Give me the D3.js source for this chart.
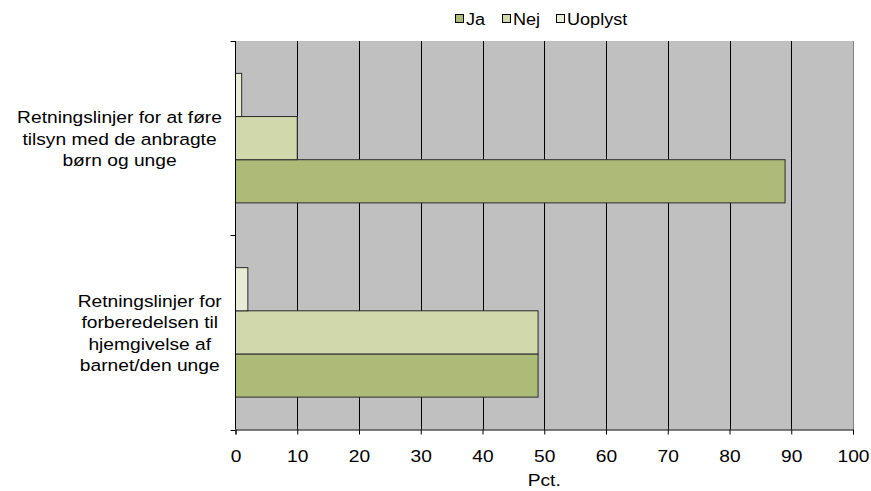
<!DOCTYPE html>
<html>
<head>
<meta charset="utf-8">
<script src="https://cdn.jsdelivr.net/npm/d3@7"></script>
<style>
  html, body { margin: 0; padding: 0; background: #fff; }
  svg text { font-family: "Liberation Sans", Arial, sans-serif; fill: #000; }
</style>
</head>
<body>
<svg id="chart" width="871" height="491"></svg>
<script>
// Categories (each an array of wrapped label lines)
const categories = [
  ["Retningslinjer for at føre", "tilsyn med de anbragte", "børn og unge"],
  ["Retningslinjer for", "forberedelsen til", "hjemgivelse af", "barnet/den unge"]
];
const seriesNames = ["Ja", "Nej", "Uoplyst"];
const jaValues = [89, 49];
const nejValues = [10, 49];
const uoplystValues = [1, 2];
const xTicks = [0, 10, 20, 30, 40, 50, 60, 70, 80, 90, 100];
const xTitle = "Pct.";
const colors = { "Ja": "#AEBA78", "Nej": "#D0D8AC", "Uoplyst": "#E8ECD4" };

const values = { "Ja": jaValues, "Nej": nejValues, "Uoplyst": uoplystValues };

const svg = d3.select("#chart");
const plotL = 235.5, plotR = 853, plotT = 41, plotB = 429.5;
const fontSize = 17, stretch = 1.13;   // text is drawn slightly widened

const x = d3.scaleLinear().domain([0, 100]).range([plotL, plotR]);
const catIdx = categories.map((_, i) => i);
const y = d3.scaleBand().domain(catIdx).range([plotT, plotB]).padding(0);
// within a category the series run bottom to top: Ja lowest, Uoplyst highest
const ySeries = d3.scaleBand().domain(["Uoplyst", "Nej", "Ja"])
  .range([0, y.bandwidth()]).paddingInner(0).paddingOuter(0.75);

// plot background
svg.append("rect")
  .attr("x", plotL).attr("y", plotT)
  .attr("width", plotR - plotL).attr("height", plotB - plotT)
  .attr("fill", "#C0C0C0");

// vertical gridlines
svg.append("g").selectAll("line")
  .data(xTicks.filter(t => t > 0 && t < 100))
  .join("line")
  .attr("x1", d => Math.round(x(d)) + 0.5).attr("x2", d => Math.round(x(d)) + 0.5)
  .attr("y1", plotT).attr("y2", plotB)
  .attr("stroke", "#000").attr("stroke-width", 1);

// right border of plot
svg.append("line")
  .attr("x1", Math.round(x(100)) + 0.5).attr("x2", Math.round(x(100)) + 0.5)
  .attr("y1", plotT).attr("y2", plotB)
  .attr("stroke", "#808080").attr("stroke-width", 1);

// bars
const barData = [];
catIdx.forEach(ci => {
  seriesNames.forEach(s => barData.push({ ci, s, v: values[s][ci] }));
});
svg.append("g").selectAll("rect")
  .data(barData)
  .join("rect")
  .attr("x", x(0))
  .attr("y", d => y(d.ci) + ySeries(d.s))
  .attr("width", d => x(d.v) - x(0))
  .attr("height", ySeries.bandwidth())
  .attr("fill", d => colors[d.s])
  .attr("stroke", "#2b2b2b").attr("stroke-width", 1);

// x axis
const xAxis = d3.axisBottom(x).tickValues(xTicks).tickSize(5).tickPadding(0)
  .tickFormat(d3.format("d"));
const gx = svg.append("g").attr("transform", `translate(0,${plotB})`).call(xAxis);
gx.select(".domain").attr("stroke", "#000");
gx.selectAll(".tick line").attr("stroke", "#000");
gx.selectAll("text")
  .attr("font-size", fontSize)
  .attr("font-family", "Liberation Sans, Arial, sans-serif")
  .attr("y", 0).attr("dy", null)
  .attr("transform", `translate(0,${461.5 - plotB}) scale(${stretch},1)`);

// y axis line and ticks at category boundaries
svg.append("line")
  .attr("x1", plotL).attr("x2", plotL).attr("y1", plotT).attr("y2", plotB)
  .attr("stroke", "#000");
const yBounds = catIdx.map(i => y(i)).concat([plotB]);
svg.append("g").selectAll("line")
  .data(yBounds)
  .join("line")
  .attr("x1", plotL - 5).attr("x2", plotL)
  .attr("y1", d => Math.round(d) + 0.5).attr("y2", d => Math.round(d) + 0.5)
  .attr("stroke", "#000");

// category labels: block right-aligned, lines centred within block
const labelRight = 222, lineH = 21.5;
categories.forEach((lines, ci) => {
  const g = svg.append("g");
  const t = g.append("text").attr("font-size", fontSize).attr("text-anchor", "middle");
  const cy = y(ci) + y.bandwidth() / 2;
  const n = lines.length;
  lines.forEach((ln, k) => {
    t.append("tspan").attr("x", 0)
      .attr("y", (k - (n - 1) / 2) * lineH + 6.5)
      .text(ln);
  });
  const w = t.node().getBBox().width * stretch;
  g.attr("transform", `translate(${labelRight - w / 2},${cy}) scale(${stretch},1)`);
});

// x axis title
svg.append("text")
  .attr("transform", `translate(${(plotL + plotR) / 2},485.5) scale(${stretch},1)`)
  .attr("text-anchor", "middle").attr("font-size", fontSize)
  .text(xTitle);

// legend
const legendItems = [
  { s: "Ja", x: 455 },
  { s: "Nej", x: 502 },
  { s: "Uoplyst", x: 556 }
];
const lg = svg.append("g");
legendItems.forEach(it => {
  lg.append("rect").attr("x", it.x + 0.5).attr("y", 14.5).attr("width", 8).attr("height", 8)
    .attr("fill", colors[it.s]).attr("stroke", "#000");
  lg.append("text")
    .attr("transform", `translate(${it.x + 11},25) scale(${stretch},1)`)
    .attr("font-size", 16).text(it.s);
});
</script>
</body>
</html>
